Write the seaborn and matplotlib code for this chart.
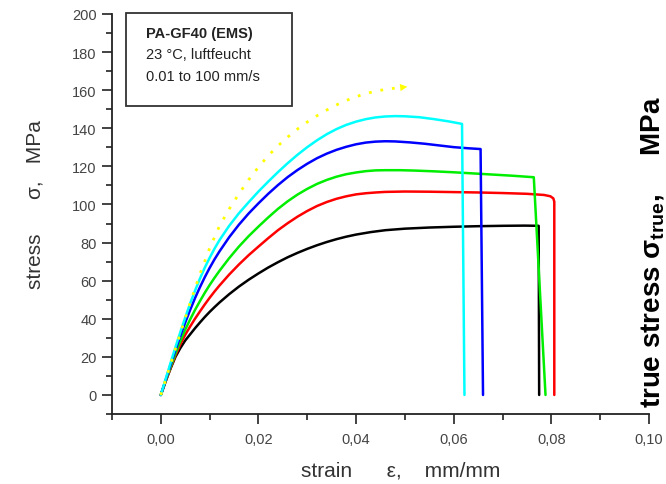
import numpy as np
import matplotlib
matplotlib.use('Agg')
import matplotlib.pyplot as plt
import pandas as pd
import seaborn as sns
from matplotlib.patches import Rectangle
from matplotlib.ticker import MultipleLocator, FuncFormatter

# strain (mm/mm) / stress (MPa), slowest to fastest rate
black_x = [0, .001, .002, .003, .004, .005, .006, .007, .008, .009, .010, .011, .012,
           .014, .016, .018, .020, .022, .024, .026, .028, .030, .032, .034, .036, .038,
           .040, .043, .046, .050, .055, .060, .065, .070, .0745, .0774, .0775]
black_y = [0, 7.3, 13.9, 20.0, 24.6, 28.6, 31.8, 35.0, 38.0, 40.9, 43.6, 46.1, 48.5,
           52.9, 56.9, 60.5, 63.8, 66.9, 69.7, 72.3, 74.6, 76.7, 78.6, 80.3, 81.8, 83.1,
           84.2, 85.5, 86.5, 87.3, 87.9, 88.3, 88.6, 88.8, 88.9, 88.8, 0]

red_x = [0, .001, .002, .003, .004, .005, .006, .007, .008, .009, .010, .011, .012,
         .014, .016, .018, .020, .022, .024, .026, .028, .030, .032, .034, .036, .038,
         .040, .042, .044, .046, .050, .055, .060, .065, .070, .075, .0785, .0798,
         .0804, .0806, .0806]
red_y = [0, 7.2, 14.2, 20.8, 26.6, 31.6, 35.9, 40.0, 43.8, 47.5, 51.0, 54.3, 57.4,
         63.2, 68.5, 73.4, 77.9, 82.3, 86.5, 90.2, 93.6, 96.6, 99.2, 101.3, 103.0, 104.3,
         105.3, 105.9, 106.3, 106.6, 106.8, 106.7, 106.5, 106.3, 106.0, 105.6, 105.0, 104.3,
         103.2, 101.5, 0]

green_x = [0, .001, .002, .003, .004, .005, .006, .007, .008, .009, .010, .011, .012,
           .014, .016, .018, .020, .022, .024, .026, .028, .030, .032, .034, .036, .038,
           .040, .042, .044, .046, .049, .052, .056, .060, .064, .068, .072, .0764, .0788]
green_y = [0, 7.5, 14.8, 21.8, 28.3, 34.3, 39.6, 44.6, 49.2, 53.6, 57.7, 61.5, 65.1,
           71.8, 77.9, 83.4, 88.4, 93.2, 97.7, 101.7, 105.2, 108.2, 110.8, 112.9, 114.6, 115.9,
           116.8, 117.5, 117.9, 118.0, 118.0, 117.8, 117.4, 116.9, 116.3, 115.7, 115.1, 114.3, 0]

blue_x = [0, .001, .002, .003, .004, .005, .006, .007, .008, .009, .010, .011, .012,
          .014, .016, .018, .020, .022, .024, .026, .028, .030, .032, .034, .036, .038,
          .040, .042, .044, .046, .048, .051, .054, .057, .060, .063, .0655, .0660]
blue_y = [0, 7.9, 15.9, 23.6, 31.0, 38.0, 44.6, 50.8, 56.5, 61.8, 66.7, 71.2, 75.3,
          82.8, 89.4, 95.3, 100.6, 105.6, 110.2, 114.4, 118.1, 121.4, 124.3, 126.7, 128.7, 130.3,
          131.6, 132.5, 133.0, 133.2, 133.1, 132.6, 131.9, 131.0, 130.1, 129.5, 129.1, 0]

cyan_x = [0, .001, .002, .003, .004, .005, .006, .007, .008, .009, .010, .011, .012,
          .014, .016, .018, .020, .022, .024, .026, .028, .030, .032, .034, .036, .038,
          .040, .042, .044, .046, .048, .050, .053, .056, .059, .0617, .0622]
cyan_y = [0, 8.5, 16.9, 25.1, 33.0, 40.6, 48.0, 54.7, 61.0, 66.8, 72.0, 76.8, 81.2,
          88.8, 95.4, 101.2, 106.8, 112.0, 117.0, 121.7, 126.1, 130.1, 133.7, 136.9, 139.6, 141.8,
          143.5, 144.8, 145.7, 146.2, 146.4, 146.3, 145.8, 144.8, 143.6, 142.3, 0]

# dotted trend arrow
trend_x = [0, .002, .004, .006, .008, .010, .012, .014, .016, .018, .020, .022, .024,
           .026, .028, .030, .032, .034, .036, .038, .040, .042, .044, .046, .048]
trend_y = [0, 16.2, 32.4, 48.3, 63.4, 77.0, 88.6, 97.6, 105.6, 113.0, 119.6, 125.6, 130.8,
           135.4, 139.6, 143.3, 146.6, 149.6, 152.3, 154.6, 156.6, 158.2, 159.5, 160.4, 161.1]
arrow_tip = (0.0505, 161.8)

curves = {'black': (black_x, black_y), 'red': (red_x, red_y), 'lime': (green_x, green_y),
          'blue': (blue_x, blue_y), 'cyan': (cyan_x, cyan_y)}
colors = {'black': '#000000', 'red': '#ff0000', 'lime': '#00ee00',
          'blue': '#0000ff', 'cyan': '#00ffff'}

frames = []
for name, (xs, ys) in curves.items():
    frames.append(pd.DataFrame({'strain': xs, 'stress': ys, 'curve': name}))
df = pd.concat(frames, ignore_index=True)

sns.set_theme(style='ticks')
plt.rcParams['font.family'] = ['Liberation Sans', 'DejaVu Sans']
plt.rcParams['mathtext.fontset'] = 'custom'
plt.rcParams['mathtext.rm'] = 'Liberation Sans'
plt.rcParams['mathtext.it'] = 'Liberation Sans:italic'
plt.rcParams['mathtext.bf'] = 'Liberation Sans:bold'

fig = plt.figure(figsize=(6.66, 4.85), dpi=100)
ax = fig.add_axes([112 / 666, 1 - 415 / 485, 537 / 666, 400 / 485])

sns.lineplot(data=df, x='strain', y='stress', hue='curve', palette=colors,
             sort=False, estimator=None, legend=False, lw=1.8, ax=ax)

ax.plot(trend_x, trend_y, color='#ffff00', lw=2.0, linestyle=(0, (1, 3.2)),
        dash_capstyle='butt')
ax.annotate('', xy=arrow_tip, xytext=(trend_x[-1], trend_y[-1]),
            arrowprops=dict(arrowstyle='-|>', color='#ffff00', lw=0,
                            mutation_scale=13, shrinkA=0, shrinkB=0))

ax.set_xlim(-0.01, 0.10)
ax.set_ylim(-10, 200)
ax.xaxis.set_major_locator(MultipleLocator(0.02))
ax.xaxis.set_minor_locator(MultipleLocator(0.01))
ax.yaxis.set_major_locator(MultipleLocator(20))
ax.yaxis.set_minor_locator(MultipleLocator(10))
ax.xaxis.set_major_formatter(FuncFormatter(lambda v, p: f'{v:.2f}'.replace('.', ',')))
ax.yaxis.set_major_formatter(FuncFormatter(lambda v, p: f'{v:.0f}'))
ax.set_xlabel('')
ax.set_ylabel('')
sns.despine(ax=ax)
for s in ['left', 'bottom']:
    ax.spines[s].set_linewidth(1.3)
    ax.spines[s].set_color('#222222')
ax.tick_params(which='major', length=7, width=1.2, color='#222222',
               labelsize=10.5, labelcolor='#444444', pad=4)
ax.tick_params(which='minor', length=4, width=1.2, color='#222222')
ax.tick_params(axis='x', which='major', pad=6)

# info box
ax.add_patch(Rectangle((0.027, 0.769), 0.308, 0.2335, transform=ax.transAxes,
                       fill=False, lw=1.3, ec='#333333', clip_on=False))
ax.text(0.063, 0.952, 'PA-GF40 (EMS)', transform=ax.transAxes, fontsize=10.5,
        fontweight='bold', color='#222222', va='center')
ax.text(0.063, 0.899, '23 °C, luftfeucht', transform=ax.transAxes, fontsize=10.5,
        color='#222222', va='center')
ax.text(0.063, 0.846, '0.01 to 100 mm/s', transform=ax.transAxes, fontsize=10.5,
        color='#222222', va='center')

fig.text(35 / 666, 1 - 205 / 485, 'stress      σ,   MPa', rotation=90,
         ha='center', va='center', fontsize=15, color='#333333')
fig.text(401 / 666, 1 - 471 / 485, 'strain      ε,    mm/mm',
         ha='center', va='center', fontsize=15, color='#333333')
fig.text(652 / 666, 1 - 252 / 485, r'true stress $\mathbf{\sigma_{true}}$,     MPa',
         rotation=90, ha='center', va='center', fontsize=20, fontweight='bold',
         color='#000000')

fig.savefig('out.png', dpi=100)
